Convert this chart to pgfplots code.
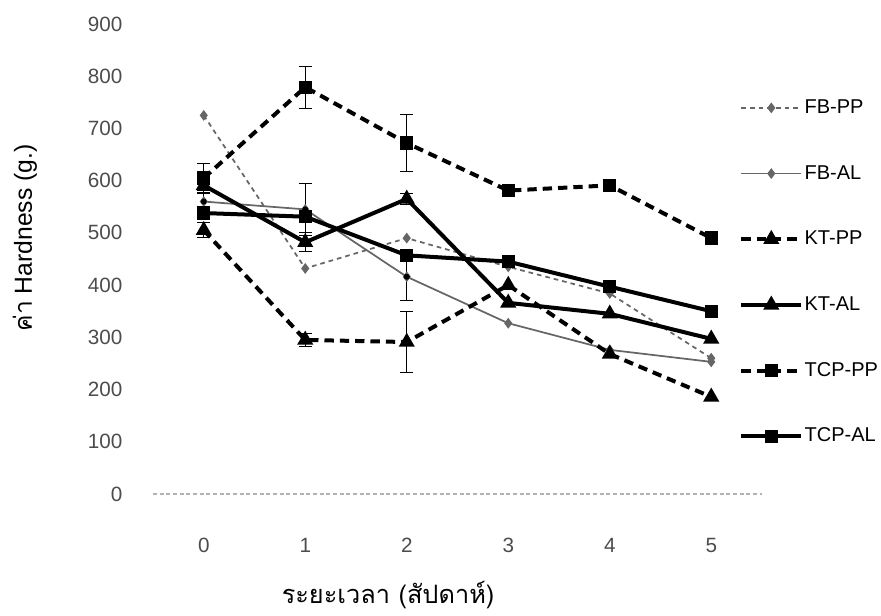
\documentclass[border=0pt]{standalone}
\usepackage{pgfplots}
\pgfplotsset{compat=1.18}
\usepackage{fontspec}
\setmainfont{Liberation Sans}
\newfontfamily\thaifont[Script=Thai]{Loma}

\pgfplotstableread{
x y
0 725
1 432
2 490
3 435
4 384
5 260
}\fbpp
\pgfplotstableread{
x y
0 560
1 545
2 416
3 327
4 276
5 253
}\fbal
\pgfplotstableread{
x y
0 505
1 295
2 291
3 400
4 268
5 186
}\ktpp
\pgfplotstableread{
x y
0 591
1 482
2 565
3 366
4 345
5 297
}\ktal
\pgfplotstableread{
x y
0 605
1 779
2 672
3 581
4 591
5 490
}\tcppp
\pgfplotstableread{
x y
0 538
1 531
2 457
3 445
4 397
5 350
}\tcpal
\pgfplotstableread{
x y e
0 605 27
0 505 14
0 591 10
0 560 15
1 779 40
1 545 50
1 482 18
1 295 12
2 672 54
2 416 45
2 565 10
2 291 59
}\errs

\begin{document}
\begin{tikzpicture}[x=1pt,y=1pt]
\useasboundingbox (0,0) rectangle (660.75,462);
\begin{axis}[
  at={(114.75pt,91.5pt)}, anchor=south west,
  scale only axis, width=456.75pt, height=352.5pt,
  xmin=-0.5, xmax=5.5, ymin=0, ymax=900,
  axis x line*=bottom, axis y line*=left,
  y axis line style={draw=none},
  x axis line style={draw=gray!60, line width=0.8pt, densely dashed, -},
  xtick={0,...,5}, ytick={0,100,...,900},
  major tick length=0pt,
  tick label style={font=\fontsize{15.5}{18}\selectfont, text=black!70},
  /pgf/number format/assume math mode=true,
  yticklabel style={xshift=-19.5pt},
  xticklabel style={yshift=-29.7pt},
  xlabel={\thaifont ระยะเวลา (สัปดาห์)},
  xlabel style={at={(rel axis cs:0.386,0)}, anchor=center, yshift=-75.5pt, font=\fontsize{19}{22}\selectfont},
  ylabel={{\thaifont ค่า} Hardness (g.)},
  ylabel style={at={(rel axis cs:-0.2102,0.5447)}, anchor=center, rotate=0, font=\fontsize{18.5}{21}\selectfont},
  clip=false,
  legend style={draw=none, fill=none, at={(rel axis cs:0.9557,0.8483)}, anchor=north west,
    font=\fontsize{15}{18}\selectfont, row sep=34.75pt,
    nodes={inner xsep=1pt, inner ysep=0pt, text height=11.5pt, text depth=3pt}},
  legend cell align=left,
  legend image code/.code={\draw[mark repeat=2,mark phase=2] plot coordinates {(0pt,0pt) (22.5pt,0pt) (45pt,0pt)};},
]
\addplot[black!60, line width=1.3pt, dash pattern=on 3.5pt off 3pt, mark=diamond*, mark size=3pt, mark options={solid}] table[x=x,y=y] {\fbpp};
\addlegendentry{FB-PP}
\addplot[black!60, line width=1.3pt, mark=diamond*, mark size=3pt, mark options={solid}] table[x=x,y=y] {\fbal};
\addlegendentry{FB-AL}
\addplot[black, line width=3pt, dash pattern=on 7pt off 4.5pt, mark=triangle*, mark size=4pt, mark options={solid}] table[x=x,y=y] {\ktpp};
\addlegendentry{KT-PP}
\addplot[black, line width=3pt, mark=triangle*, mark size=4pt, mark options={solid}] table[x=x,y=y] {\ktal};
\addlegendentry{KT-AL}
\addplot[black, line width=3pt, dash pattern=on 7pt off 4.5pt, mark=square*, mark size=3.5pt, mark options={solid}] table[x=x,y=y] {\tcppp};
\addlegendentry{TCP-PP}
\addplot[black, line width=3pt, mark=square*, mark size=3.5pt, mark options={solid}] table[x=x,y=y] {\tcpal};
\addlegendentry{TCP-AL}
\addplot[forget plot, only marks, mark=none, black,
  error bars/.cd, y dir=both, y explicit,
  error bar style={black, line width=0.7pt, solid},
  error mark options={rotate=90, mark size=5pt, line width=0.7pt, black}]
  table[x=x,y=y,y error=e] {\errs};
\end{axis}
\end{tikzpicture}
\end{document}
